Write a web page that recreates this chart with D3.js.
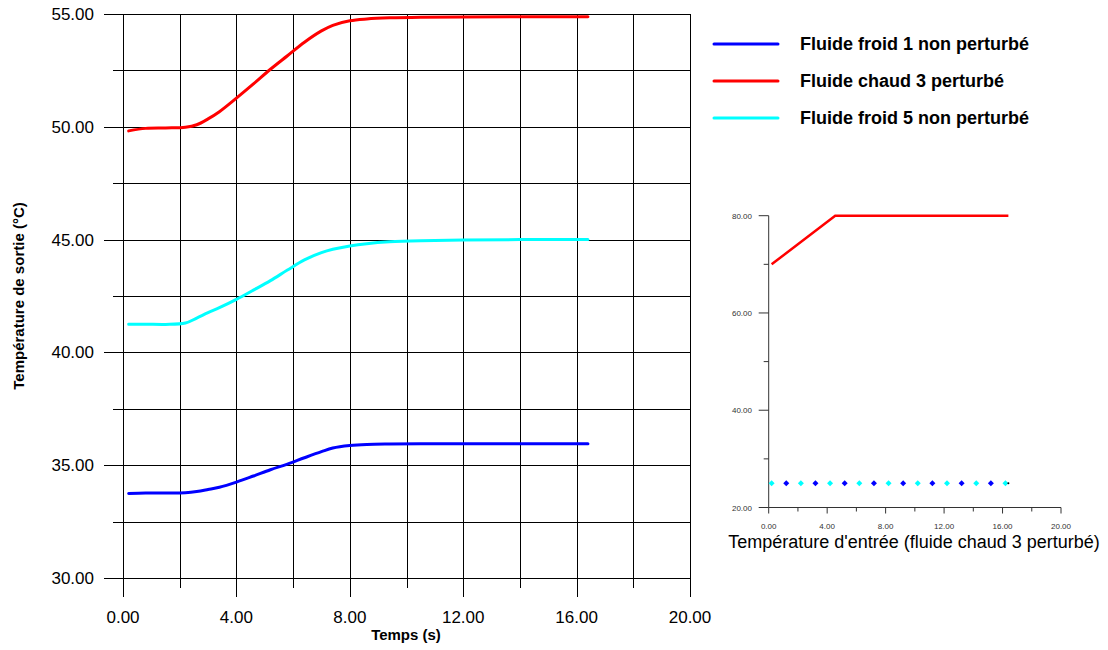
<!DOCTYPE html>
<html><head><meta charset="utf-8">
<script src="https://cdn.jsdelivr.net/npm/d3@7"></script>
<style>body{margin:0;background:#fff}svg{display:block;font-family:"Liberation Sans",Arial,sans-serif}</style>
</head><body>
<svg id="c" width="1108" height="650"></svg>
<script>
// ---- data ----
const times = [0.2,0.8,1.5,2.2,2.6,3.0,3.4,4.0,4.6,5.2,5.8,6.4,7.0,7.4,8.0,8.6,9.4,10.5,12,14,16.4];
const froid1 = [33.75,33.77,33.77,33.78,33.83,33.92,34.02,34.25,34.52,34.80,35.05,35.33,35.60,35.76,35.87,35.92,35.94,35.95,35.95,35.95,35.95];
const chaud3 = [49.82,49.93,49.95,49.98,50.09,50.35,50.67,51.27,51.90,52.55,53.15,53.75,54.25,54.50,54.70,54.78,54.83,54.86,54.87,54.88,54.88];
const froid5 = [41.25,41.25,41.24,41.30,41.52,41.76,41.98,42.35,42.76,43.18,43.65,44.10,44.42,44.57,44.72,44.82,44.90,44.95,44.98,45.00,45.00];
const seriesNames = ["Fluide froid 1 non perturbé","Fluide chaud 3 perturbé","Fluide froid 5 non perturbé"];
const xTicks = [0,4,8,12,16,20];
const yTicks = [30,35,40,45,50,55];
// inset
const insetRedX = [0.2,4.55,16.4];
const insetRedY = [70,80,80];
const insetCyanX = [0.2,2.2,4.2,6.2,8.2,10.2,12.2,14.2,16.2];
const insetBlueX = [1.2,3.2,5.2,7.2,9.2,11.2,13.2,15.2];
const insetDotY = 25;
const insetEndX = 16.4;
const insetXTicks = [0,4,8,12,16,20];
const insetYTicks = [20,40,60,80];

const svg = d3.select("#c");
const colors = ["#0000ff","#ff0000","#00ffff"];

// ---- main chart ----
const x = d3.scaleLinear().domain([0,20]).range([123,690]);
const y = d3.scaleLinear().domain([30,55]).range([578,14]);
const g = svg.append("g");

const xGrid = d3.range(0,20.001,2);
const yGrid = d3.range(30,55.001,2.5);
xGrid.forEach(v=>{
  const major = Math.abs(v%4)<1e-6;
  g.append("line").attr("x1",Math.round(x(v))+0.5).attr("x2",Math.round(x(v))+0.5)
   .attr("y1",y(55)).attr("y2",y(30)+(major?19:10)).attr("stroke","#000").attr("stroke-width",1);
});
yGrid.forEach(v=>{
  const major = Math.abs(v%5)<1e-6;
  g.append("line").attr("y1",Math.round(y(v))+0.5).attr("y2",Math.round(y(v))+0.5)
   .attr("x1",x(0)-(major?19:10)).attr("x2",x(20)).attr("stroke","#000").attr("stroke-width",1);
});
g.selectAll(".yl").data(yTicks).join("text").attr("x",94).attr("y",d=>y(d)+6)
 .attr("text-anchor","end").attr("font-size",17).attr("fill","#000").text(d=>d.toFixed(2));
g.selectAll(".xl").data(xTicks).join("text").attr("x",d=>x(d)).attr("y",623)
 .attr("text-anchor","middle").attr("font-size",17).attr("fill","#000").text(d=>d.toFixed(2));
g.append("text").attr("x",406).attr("y",640).attr("text-anchor","middle")
 .attr("font-size",15).attr("font-weight","bold").text("Temps (s)");
g.append("text").attr("transform","translate(24,296) rotate(-90)").attr("text-anchor","middle")
 .attr("font-size",15).attr("font-weight","bold").text("Température de sortie (°C)");

const line = d3.line().x(d=>x(d[0])).y(d=>y(d[1])).curve(d3.curveCatmullRom.alpha(0.5));
[froid1,chaud3,froid5].forEach((s,i)=>{
  g.append("path").datum(times.map((t,j)=>[t,s[j]])).attr("d",line)
   .attr("fill","none").attr("stroke",colors[i]).attr("stroke-width",3).attr("stroke-linecap","round").attr("stroke-linejoin","round");
});

// legend
seriesNames.forEach((n,i)=>{
  const ly = 44 + i*37;
  svg.append("line").attr("x1",714).attr("x2",778).attr("y1",ly).attr("y2",ly)
   .attr("stroke",colors[i]).attr("stroke-width",3).attr("stroke-linecap","round");
  svg.append("text").attr("x",800).attr("y",ly+6).attr("font-size",18).attr("font-weight","bold").text(n);
});

// ---- inset ----
const ix = d3.scaleLinear().domain([0,20]).range([768.7,1061]);
const iy = d3.scaleLinear().domain([20,80]).range([507.5,215.7]);
const gi = svg.append("g");
gi.append("line").attr("x1",ix(0)).attr("x2",ix(0)).attr("y1",iy(80)).attr("y2",iy(20)).attr("stroke","#333");
gi.append("line").attr("x1",ix(0)).attr("x2",ix(20)).attr("y1",iy(20)).attr("y2",iy(20)).attr("stroke","#333");
d3.range(20,80.001,10).forEach(v=>{
  const major = v%20===0;
  gi.append("line").attr("x1",ix(0)-(major?10:5)).attr("x2",ix(0)).attr("y1",iy(v)).attr("y2",iy(v)).attr("stroke","#333");
});
d3.range(0,20.001,2).forEach(v=>{
  const major = v%4===0;
  gi.append("line").attr("y1",iy(20)).attr("y2",iy(20)+(major?6:4)).attr("x1",ix(v)).attr("x2",ix(v)).attr("stroke","#333");
});
gi.selectAll(".iyl").data(insetYTicks).join("text").attr("x",752).attr("y",d=>iy(d)+3)
 .attr("text-anchor","end").attr("font-size",8).attr("fill","#333").text(d=>d.toFixed(2));
gi.selectAll(".ixl").data(insetXTicks).join("text").attr("x",d=>ix(d)).attr("y",529)
 .attr("text-anchor","middle").attr("font-size",8).attr("fill","#333").text(d=>d.toFixed(2));
gi.append("text").attr("x",914).attr("y",548).attr("text-anchor","middle").attr("font-size",18)
 .attr("fill","#000").text("Température d'entrée (fluide chaud 3 perturbé)");
gi.append("path").datum(insetRedX.map((v,i)=>[v,insetRedY[i]]))
 .attr("d",d3.line().x(d=>ix(d[0])).y(d=>iy(d[1]))).attr("fill","none").attr("stroke","#ff0000").attr("stroke-width",2.5);
const diamond = d3.symbol().type(d3.symbolSquare).size(18);
gi.selectAll(".dc").data(insetCyanX).join("path").attr("d",diamond)
 .attr("transform",d=>`translate(${ix(d)},${iy(insetDotY)}) rotate(45)`).attr("fill","#00ffff");
gi.selectAll(".db").data(insetBlueX).join("path").attr("d",diamond)
 .attr("transform",d=>`translate(${ix(d)},${iy(insetDotY)}) rotate(45)`).attr("fill","#0000ff");
gi.append("circle").attr("cx",ix(insetEndX)).attr("cy",iy(insetDotY)).attr("r",1).attr("fill","#000");
</script>
</body></html>
